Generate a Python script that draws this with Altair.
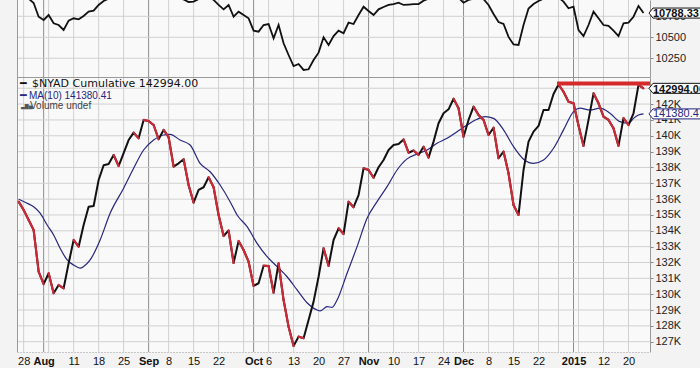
import json
import altair as alt
import pandas as pd

# ---------------- data ----------------
# x positions are trading-day indexes: 0 = Jul 28 2014 ... 124 = Jan 23 2015
day_idx = list(range(-1, 125))

# x-axis grid lines (first trading day of each week / month) and their labels
grid_idx = [0, 4, 5, 10, 15, 20, 25, 29, 34, 39, 44, 46, 49, 54, 59, 64, 69, 74, 79,
            84, 88, 93, 98, 103, 107, 110, 111, 116, 121]
grid_lbl = ["28", "Aug", "", "11", "18", "25", "Sep", "8", "15", "22", "", "Oct", "6",
            "13", "20", "27", "Nov", "10", "17", "24", "Dec", "8", "15", "22", "", "2015",
            "", "12", "20"]
month_idx = [4, 25, 46, 69, 88, 110]

# $NYAD cumulative, thousands
nyad_k = [135.84, 135.32, 134.68, 134.05, 131.42, 130.63, 131.32, 130.06, 130.58, 130.37,
          131.95, 133.42, 133.00, 134.37, 135.52, 135.57, 137.21, 138.14, 138.22, 138.79,
          138.09, 138.90, 139.73, 140.20, 139.84, 141.00, 140.93, 140.68, 139.78, 140.37,
          139.91, 138.05, 138.26, 138.52, 136.89, 135.78, 136.58, 136.75, 137.38, 136.75,
          135.00, 133.67, 134.02, 131.97, 133.36, 132.79, 132.05, 130.52, 130.69, 131.80,
          131.78, 130.09, 131.95, 129.63, 127.95, 126.73, 127.32, 127.22, 128.37, 129.53,
          131.10, 132.90, 131.78, 133.42, 134.16, 133.80, 135.84, 135.49, 136.26, 137.95,
          137.84, 137.35, 138.01, 138.47, 139.10, 139.42, 139.48, 139.77, 138.93, 139.07,
          138.79, 139.31, 138.62, 139.63, 140.79, 141.42, 141.67, 142.34, 141.74, 139.94,
          141.00, 141.84, 141.31, 141.00, 140.05, 140.51, 138.58, 139.00, 137.63, 135.63,
          135.00, 137.84, 139.63, 140.26, 140.62, 141.63, 141.63, 142.64, 143.24, 142.78,
          142.15, 142.05, 140.65, 139.36, 141.00, 142.68, 142.05, 141.21, 141.00, 140.47,
          139.36, 141.12, 140.68, 141.42, 143.21, 142.994]

# MA(10) of $NYAD, thousands, read at these day indexes
ma_idx = [-1, 0.7, 2, 3.3, 4.7, 6, 7.3, 8.7, 10, 11.3, 12, 13.3, 15.3, 17.3, 20, 22, 24,
          26, 28, 29.3, 31.3, 33.3, 35.3, 37.3, 39.3, 41.3, 42.7, 44.7, 46.7, 48.7, 50.7,
          52.7, 54.7, 56.7, 58.7, 59.3, 60.7, 61.7, 62.7, 64.7, 66.7, 68.7, 70.7, 72.7,
          74.7, 76.7, 78.7, 80.7, 82.7, 84.7, 86.7, 88.7, 90.7, 92.3, 94, 96, 98, 100, 102,
          104, 106, 108, 110, 111.3, 113.3, 115.3, 117.3, 119.3, 121, 122, 123, 124]
ma_k = [135.99, 135.74, 135.52, 135.11, 134.37, 133.74, 132.90, 132.16, 131.84, 131.64,
        131.74, 132.16, 133.42, 135.11, 136.69, 137.95, 139.10, 139.73, 140.05, 140.09,
        139.73, 139.42, 138.26, 137.73, 136.89, 135.84, 135.00, 134.26, 133.21, 132.37,
        131.74, 131.10, 130.27, 129.46, 129.00, 128.94, 129.21, 129.17, 129.63, 131.32,
        133.00, 134.79, 135.84, 136.79, 137.84, 138.54, 138.85, 139.10, 139.53, 139.84,
        140.26, 140.68, 141.04, 141.21, 141.10, 140.37, 139.31, 138.52, 138.26, 138.47,
        139.21, 140.37, 141.52, 141.74, 141.63, 141.74, 141.42, 140.89, 140.79, 141.10,
        141.31, 141.38041]

# upper panel price ($NYA)
nya = [10970, 10985, 10960, 10908, 10745, 10706, 10765, 10667, 10646, 10587, 10698, 10726,
       10714, 10754, 10805, 10817, 10885, 10932, 10960, 10970, 10955, 10985, 11010, 11030,
       11015, 11050, 11060, 11050, 11020, 11040, 11030, 10980, 10965, 10950, 10920, 10925,
       10955, 10965, 10990, 10945, 10885, 10833, 10885, 10745, 10805, 10765, 10726, 10579,
       10567, 10646, 10658, 10488, 10646, 10429, 10289, 10158, 10182, 10111, 10119, 10230,
       10317, 10500, 10408, 10515, 10579, 10548, 10674, 10658, 10765, 10864, 10813, 10765,
       10833, 10861, 10885, 10896, 10912, 10885, 10890, 10896, 10896, 10936, 10960, 10975,
       10990, 11000, 10995, 11010, 10970, 10912, 10944, 10960, 10970, 10955, 10885, 10777,
       10682, 10658, 10504, 10414, 10408, 10646, 10843, 10896, 10932, 10960, 10975, 10990,
       10975, 10924, 10845, 10864, 10587, 10515, 10646, 10805, 10726, 10646, 10635, 10579,
       10515, 10667, 10674, 10745, 10873, 10788.33]

# horizontal resistance line drawn on the $NYAD panel
resist_start = [106.7]
resist_end = [125.3]
resist_level = [143.30]

top_ticks = [10250, 10500, 10750]
bot_ticks = list(range(127, 144))

legend_nyad = f"$NYAD Cumulative {nyad_k[-1] * 1000:.2f}"
legend_ma = f"MA(10) {ma_k[-1] * 1000:.2f}"
legend_vol = "Volume undef"

# ---------------- tables ----------------
nyad_df = pd.DataFrame({"d": day_idx, "v": nyad_k})
seg_df = pd.DataFrame({
    "d": day_idx[:-1], "d2": day_idx[1:],
    "v": nyad_k[:-1], "v2": nyad_k[1:],
})
seg_down = seg_df[seg_df["v2"] < seg_df["v"]]
ma_df = pd.DataFrame({"d": ma_idx, "v": ma_k})
nya_df = pd.DataFrame({"d": day_idx, "p": nya})
res_df = pd.DataFrame({"d": resist_start, "d2": resist_end, "v": resist_level})
tag_top_df = pd.DataFrame({"p": [nya[-1]], "t": [f"{nya[-1]:.2f}"]})
tag_nyad_df = pd.DataFrame({"v": [nyad_k[-1]], "t": [f"{nyad_k[-1] * 1000:.2f}"]})
tag_ma_df = pd.DataFrame({"v": [ma_k[-1]], "t": [f"{ma_k[-1] * 1000:.2f}"]})
vgrid_df = pd.DataFrame({"d": grid_idx, "month": [i in month_idx for i in grid_idx]})
hgrid_top_df = pd.DataFrame({"p": top_ticks})
hgrid_bot_df = pd.DataFrame({"v": bot_ticks})

# ---------------- scales & axes ----------------
W, H = 633, 352
TOP_H = 77
FONT = "Liberation Sans"
GRID = "#d0d0d0"
GRID_DARK = "#8e8e8e"
FRAME = "#9a9a9a"

month_test = f"indexof({json.dumps(month_idx)}, datum.value) >= 0"
x_scale = alt.Scale(domain=[-1.33, 125.3], nice=False, zero=False)
x_axis = alt.Axis(
    values=grid_idx,
    labelExpr=f"{json.dumps(grid_lbl)}[indexof({json.dumps(grid_idx)}, datum.value)]",
    grid=False, ticks=False, domain=True, domainColor=FRAME, domainDash=[1, 2],
    labelFont=FONT, labelFontSize=11, labelColor="#111", labelPadding=3,
    labelFontWeight={"condition": {"test": month_test, "value": "bold"}, "value": "normal"},
    labelFlush=False, labelOverlap=False, title=None,
)
X = alt.X("d:Q", scale=x_scale, axis=x_axis)

top_scale = alt.Scale(domain=[10027, 10944], range=[TOP_H, 0], nice=False, zero=False)
top_axis = alt.Axis(orient="right", values=top_ticks, format="d", grid=False,
                    domain=True, domainColor=FRAME,
                    tickSize=3, tickColor="#888", labelFont=FONT, labelFontSize=11,
                    labelColor="#222", labelPadding=2, title=None)
bot_scale = alt.Scale(domain=[126.35, 143.71], range=[H, TOP_H], nice=False, zero=False)
bot_axis = alt.Axis(orient="right", values=bot_ticks, labelExpr="datum.value + 'K'",
                    grid=False, domain=True, domainColor=FRAME,
                    tickSize=3, tickColor="#888", labelFont=FONT, labelFontSize=11,
                    labelColor="#222", labelPadding=2, title=None)
Ytop = alt.Y("p:Q", scale=top_scale, axis=top_axis)
Ybot = alt.Y("v:Q", scale=bot_scale, axis=bot_axis)

TAG_PATH = "M-1,0L-0.867,-0.167L1,-0.167L1,0.167L-0.867,0.167Z"
TAG_X = 662   # centre of the value tag, right of the plot
TXT_X = 636

# ---------------- upper panel (also carries the vertical grid) ----------------
vgrid = alt.Chart(vgrid_df).mark_rule(strokeWidth=1).encode(
    x=X, y=alt.value(0), y2=alt.value(H),
    color=alt.condition(alt.datum.month, alt.value(GRID_DARK), alt.value(GRID)),
)
hgrid_top = alt.Chart(hgrid_top_df).mark_rule(color=GRID, strokeWidth=1).encode(
    y=Ytop, x=alt.value(0), x2=alt.value(W))
nya_line = alt.Chart(nya_df).mark_line(color="#111", strokeWidth=1.8, clip=True).encode(x=X, y=Ytop)
top_tag = alt.Chart(tag_top_df).mark_point(
    shape=TAG_PATH, size=3600, filled=True, fill="white", stroke="#111", strokeWidth=1, opacity=1
).encode(x=alt.value(TAG_X), y=Ytop)
top_tag_txt = alt.Chart(tag_top_df).mark_text(
    align="left", baseline="middle", font=FONT, fontSize=11, fontWeight="bold", color="#111", dy=0.5
).encode(x=alt.value(TXT_X), y=Ytop, text="t:N")
top_group = alt.layer(vgrid, hgrid_top, nya_line, top_tag, top_tag_txt)

# ---------------- lower panel ----------------
hgrid_bot = alt.Chart(hgrid_bot_df).mark_rule(color=GRID, strokeWidth=1).encode(
    y=Ybot, x=alt.value(0), x2=alt.value(W))
nyad_line = alt.Chart(nyad_df).mark_line(color="#111", strokeWidth=2, strokeJoin="round").encode(x=X, y=Ybot)
red_segs = alt.Chart(seg_down).mark_rule(color="#cc2a36", strokeWidth=2.2, strokeCap="round").encode(
    x=X, x2="d2:Q", y=Ybot, y2="v2:Q")
ma_line = alt.Chart(ma_df).mark_line(color="#26267e", strokeWidth=1.2, interpolate="monotone").encode(x=X, y=Ybot)
resist = alt.Chart(res_df).mark_rule(color="#d42a2a", strokeWidth=4).encode(x=X, x2="d2:Q", y=Ybot)

nyad_tag = alt.Chart(tag_nyad_df).mark_point(
    shape=TAG_PATH, size=3600, filled=True, fill="white", stroke="#111", strokeWidth=1, opacity=1
).encode(x=alt.value(TAG_X), y=Ybot)
nyad_tag_txt = alt.Chart(tag_nyad_df).mark_text(
    align="left", baseline="middle", font=FONT, fontSize=11, fontWeight="bold", color="#111", dy=1.5
).encode(x=alt.value(TXT_X), y=Ybot, text="t:N")
ma_tag = alt.Chart(tag_ma_df).mark_point(
    shape=TAG_PATH, size=3600, filled=True, fill="white", stroke="#26267e", strokeWidth=1, opacity=1
).encode(x=alt.value(TAG_X), y=Ybot)
ma_tag_txt = alt.Chart(tag_ma_df).mark_text(
    align="left", baseline="middle", font=FONT, fontSize=11, color="#26267e", dy=0.5
).encode(x=alt.value(TXT_X), y=Ybot, text="t:N")

leg_df = pd.DataFrame({"t": [legend_nyad]})
leg1_dash = alt.Chart(leg_df).mark_text(text="━", align="left", baseline="middle",
                                        font="DejaVu Sans", fontSize=11, color="#111").encode(
    x=alt.value(3), y=alt.value(84))
leg1 = alt.Chart(leg_df).mark_text(align="left", baseline="middle", font="DejaVu Sans",
                                   fontSize=11, color="#111").encode(
    x=alt.value(15), y=alt.value(84), text="t:N")
leg2_dash = alt.Chart(pd.DataFrame({"t": [legend_ma]})).mark_text(
    text="━", align="left", baseline="middle", font="DejaVu Sans", fontSize=11, color="#26267e").encode(
    x=alt.value(3), y=alt.value(96))
leg2 = alt.Chart(pd.DataFrame({"t": [legend_ma]})).mark_text(
    align="left", baseline="middle", font=FONT, fontSize=10, color="#26267e").encode(
    x=alt.value(12), y=alt.value(96), text="t:N")
leg3_icon = alt.Chart(pd.DataFrame({"t": [legend_vol]})).mark_text(
    text="▃▇▅", align="left", baseline="middle", font="DejaVu Sans", fontSize=5, color="#555").encode(
    x=alt.value(4), y=alt.value(106))
leg3 = alt.Chart(pd.DataFrame({"t": [legend_vol]})).mark_text(
    align="left", baseline="middle", font=FONT, fontSize=10, color="#444").encode(
    x=alt.value(13), y=alt.value(106), text="t:N")

frame_left = alt.Chart(leg_df).mark_rule(color=FRAME, strokeWidth=1).encode(
    x=alt.value(0.5), y=alt.value(0), y2=alt.value(H))
frame_sep = alt.Chart(leg_df).mark_rule(color=FRAME, strokeWidth=1).encode(
    x=alt.value(0), x2=alt.value(W), y=alt.value(TOP_H + 0.5))

bot_group = alt.layer(
    hgrid_bot, frame_left, frame_sep, ma_line, nyad_line, red_segs, resist,
    ma_tag, ma_tag_txt, nyad_tag, nyad_tag_txt,
    leg1_dash, leg1, leg2_dash, leg2, leg3_icon, leg3,
)

chart = alt.layer(top_group, bot_group).resolve_scale(y="independent").properties(
    width=W, height=H,
    padding={"left": 17, "top": 0, "right": 50, "bottom": 16},
    autosize=alt.AutoSizeParams(type="none"),
    background="#f3f3f3",
).configure_view(strokeWidth=0, fill="#f9f9f9")

chart.save("out.html", embed_options={"renderer": "svg", "actions": False})
